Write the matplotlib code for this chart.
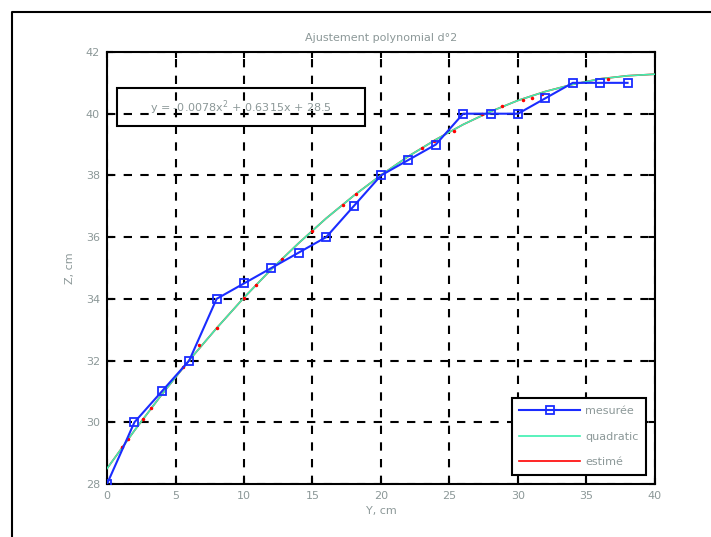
import matplotlib.pyplot as plt
from matplotlib.lines import Line2D
from matplotlib.patches import Rectangle

# measured profile (Y, Z in cm)
y_meas = [0, 2, 4, 6, 8, 10, 12, 14, 16, 18, 20, 22, 24, 26, 28, 30, 32, 34, 36, 38]
z_meas = [28, 30, 31, 32, 34, 34.5, 35, 35.5, 36, 37, 38, 38.5, 39, 40, 40, 40,
          40.5, 41, 41, 41]

# quadratic fit curve
y_quad = [0, 2, 4, 6, 8, 10, 12, 14, 16, 18, 20, 22, 24, 26, 28, 30, 32, 34, 36, 38, 40]
z_quad = [28.5, 29.73, 30.9, 32.01, 33.05, 34.04, 34.96, 35.81, 36.61, 37.34, 38.01,
          38.62, 39.16, 39.65, 40.07, 40.43, 40.72, 40.95, 41.13, 41.23, 41.28]

# estimated points (red dots peeking out along the fit)
y_est = [1.1, 1.55, 2.6, 3.2, 5.55, 6.7, 8.0, 10.0, 10.9, 12.8, 15.0, 17.2, 18.2,
         23.0, 23.9, 25.3, 27.4, 28.8, 30.4, 31.0, 31.75, 36.6]
z_est = [29.2, 29.47, 30.1, 30.45, 31.8, 32.5, 33.05, 34.04, 34.45, 35.3, 36.2,
         37.05, 37.4, 38.9, 39.1, 39.45, 40.0, 40.25, 40.45, 40.5, 40.65, 41.13]

x_ticks = [0, 5, 10, 15, 20, 25, 30, 35, 40]
z_ticks = [28, 30, 32, 34, 36, 38, 40, 42]

GREY = "#8c9898"

fig = plt.figure(figsize=(7.11, 5.37), dpi=100)
ax = fig.add_axes([0.1505, 0.0987, 0.7707, 0.8045])

ax.plot(y_quad, z_quad, color="red", linewidth=1.2, zorder=2)
ax.plot(y_est, z_est, ".", color="red", markersize=3, zorder=4)
ax.plot(y_quad, z_quad, color="#3cf0b0", linewidth=1.2, zorder=3)
ax.plot(y_meas, z_meas, color="#1a2cff", linewidth=1.5, marker="s",
        markersize=6, markerfacecolor="none", markeredgewidth=1.3, zorder=5)

ax.set_xlim(0, 40)
ax.set_ylim(28, 42)
ax.set_xticks(x_ticks)
ax.set_yticks(z_ticks)
ax.grid(True, color="black", linestyle=(0, (4, 4)), linewidth=1.5)
ax.set_axisbelow(True)
for sp in ax.spines.values():
    sp.set_linewidth(1.5)
ax.tick_params(direction="in", length=4, width=1.5, top=True, right=True,
               labelsize=8, labelcolor=GREY, pad=5)

ax.set_title("Ajustement polynomial d°2", fontsize=8, color=GREY, pad=8)
ax.set_xlabel("Y, cm", fontsize=8, color=GREY, labelpad=4)
ax.set_ylabel("Z, cm", fontsize=8, color=GREY, labelpad=8)

# equation box
ax.add_patch(Rectangle((0.018, 0.829), 0.453, 0.088, transform=ax.transAxes,
                       fill=False, edgecolor="black", linewidth=1.5, zorder=6))
ax.text(0.245, 0.871, "y = -0.0078x$^2$ + 0.6315x + 28.5", transform=ax.transAxes,
        ha="center", va="center", fontsize=8, color=GREY, zorder=7)

handles = [
    Line2D([], [], color="#1a2cff", linewidth=1.5, marker="s", markersize=6,
           markerfacecolor="none", markeredgewidth=1.3),
    Line2D([], [], color="#3cf0b0", linewidth=1.2),
    Line2D([], [], color="red", linewidth=1.2),
]
leg = ax.legend(handles, ["mesurée", "quadratic", "estimé"], loc="lower right",
                fontsize=8, handlelength=5.5, handletextpad=0.4, fancybox=False,
                framealpha=1, edgecolor="black", borderaxespad=0.8,
                borderpad=0.7, labelspacing=1.4)
leg.get_frame().set_linewidth(1.5)
for t in leg.get_texts():
    t.set_color(GREY)

# window border from the screenshot
fig.add_artist(Line2D([12 / 711, 12 / 711, 1.0], [0.0, 1 - 12 / 537, 1 - 12 / 537],
                      color="black", linewidth=1.5, transform=fig.transFigure))

fig.savefig("out.png", dpi=100)
